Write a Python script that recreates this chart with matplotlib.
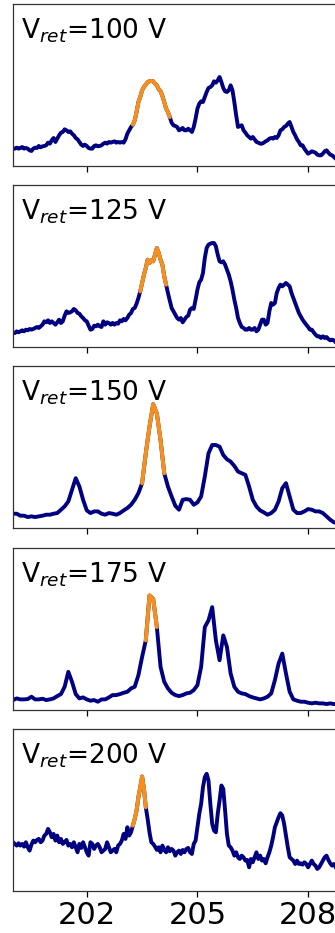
import numpy as np
import matplotlib
matplotlib.use('Agg')
import matplotlib.pyplot as plt

# binding energy grids (eV)
energy_fine = [
    200.00, 200.05, 200.10, 200.15, 200.20, 200.25, 200.30, 200.35, 200.40, 200.45,
    200.50, 200.55, 200.60, 200.65, 200.70, 200.75, 200.80, 200.85, 200.90, 200.95,
    201.00, 201.05, 201.10, 201.15, 201.20, 201.25, 201.30, 201.35, 201.40, 201.45,
    201.50, 201.55, 201.60, 201.65, 201.70, 201.75, 201.80, 201.85, 201.90, 201.95,
    202.00, 202.05, 202.10, 202.15, 202.20, 202.25, 202.30, 202.35, 202.40, 202.45,
    202.50, 202.55, 202.60, 202.65, 202.70, 202.75, 202.80, 202.85, 202.90, 202.95,
    203.00, 203.05, 203.10, 203.15, 203.20, 203.25, 203.30, 203.35, 203.40, 203.45,
    203.50, 203.55, 203.60, 203.65, 203.70, 203.75, 203.80, 203.85, 203.90, 203.95,
    204.00, 204.05, 204.10, 204.15, 204.20, 204.25, 204.30, 204.35, 204.40, 204.45,
    204.50, 204.55, 204.60, 204.65, 204.70, 204.75, 204.80, 204.85, 204.90, 204.95,
    205.00, 205.05, 205.10, 205.15, 205.20, 205.25, 205.30, 205.35, 205.40, 205.45,
    205.50, 205.55, 205.60, 205.65, 205.70, 205.75, 205.80, 205.85, 205.90, 205.95,
    206.00, 206.05, 206.10, 206.15, 206.20, 206.25, 206.30, 206.35, 206.40, 206.45,
    206.50, 206.55, 206.60, 206.65, 206.70, 206.75, 206.80, 206.85, 206.90, 206.95,
    207.00, 207.05, 207.10, 207.15, 207.20, 207.25, 207.30, 207.35, 207.40, 207.45,
    207.50, 207.55, 207.60, 207.65, 207.70, 207.75, 207.80, 207.85, 207.90, 207.95,
    208.00, 208.05, 208.10, 208.15, 208.20, 208.25, 208.30, 208.35, 208.40, 208.45,
    208.50, 208.55, 208.60, 208.65, 208.70, 208.75]

energy_coarse = [
    200.0, 200.1, 200.2, 200.3, 200.4, 200.5, 200.6, 200.7, 200.8, 200.9,
    201.0, 201.1, 201.2, 201.3, 201.4, 201.5, 201.6, 201.7, 201.8, 201.9,
    202.0, 202.1, 202.2, 202.3, 202.4, 202.5, 202.6, 202.7, 202.8, 202.9,
    203.0, 203.1, 203.2, 203.3, 203.4, 203.5, 203.6, 203.7, 203.8, 203.9,
    204.0, 204.1, 204.2, 204.3, 204.4, 204.5, 204.6, 204.7, 204.8, 204.9,
    205.0, 205.1, 205.2, 205.3, 205.4, 205.5, 205.6, 205.7, 205.8, 205.9,
    206.0, 206.1, 206.2, 206.3, 206.4, 206.5, 206.6, 206.7, 206.8, 206.9,
    207.0, 207.1, 207.2, 207.3, 207.4, 207.5, 207.6, 207.7, 207.8, 207.9,
    208.0, 208.1, 208.2, 208.3, 208.4, 208.5, 208.6, 208.7, 208.8]

voltages = [100, 125, 150, 175, 200]

# intensities (arb. units)
spec_100 = [
    52, 52, 55, 52, 54, 57, 52, 54, 52, 47, 45, 52, 55, 54, 60, 56, 59, 60, 62, 70,
    67, 77, 84, 72, 82, 92, 100, 102, 110, 107, 102, 104, 97, 92, 84, 80, 72, 64, 60, 64,
    60, 54, 52, 52, 60, 62, 59, 60, 62, 67, 70, 67, 72, 70, 72, 74, 70, 72, 70, 72,
    70, 80, 97, 107, 117, 124, 137, 162, 192, 207, 227, 237, 244, 252, 254, 255, 254, 247, 242, 230,
    224, 210, 192, 172, 162, 147, 130, 122, 120, 117, 107, 110, 114, 107, 107, 112, 107, 102, 117, 142,
    172, 187, 194, 192, 207, 222, 234, 237, 242, 254, 250, 257, 267, 252, 234, 224, 222, 227, 242, 227,
    192, 152, 117, 120, 122, 107, 100, 92, 87, 82, 87, 80, 72, 70, 67, 67, 70, 74, 77, 82,
    84, 82, 87, 84, 92, 107, 110, 117, 120, 127, 132, 117, 102, 92, 80, 72, 62, 62, 52, 44,
    37, 40, 44, 42, 40, 34, 32, 32, 37, 44, 47, 40, 34, 32, 27, 22]
spec_125 = [
    42, 42, 47, 44, 47, 50, 47, 52, 50, 54, 52, 54, 57, 60, 57, 62, 67, 77, 74, 80,
    72, 77, 72, 67, 74, 82, 72, 77, 94, 107, 102, 104, 107, 114, 110, 102, 100, 92, 87, 80,
    77, 64, 52, 54, 64, 62, 67, 62, 60, 77, 67, 74, 72, 67, 72, 67, 72, 70, 80, 77,
    84, 80, 87, 97, 102, 114, 117, 130, 147, 167, 192, 217, 237, 262, 252, 260, 257, 277, 297, 282,
    262, 247, 212, 187, 162, 140, 117, 107, 97, 87, 82, 87, 74, 82, 90, 94, 112, 117, 114, 142,
    172, 194, 202, 222, 267, 297, 307, 310, 312, 312, 302, 277, 257, 254, 257, 247, 232, 217, 197, 172,
    142, 117, 87, 72, 60, 57, 52, 52, 57, 52, 52, 57, 47, 52, 67, 82, 82, 67, 72, 107,
    132, 127, 132, 162, 177, 187, 182, 187, 192, 187, 182, 162, 147, 132, 117, 102, 92, 82, 74, 67,
    60, 52, 52, 44, 37, 32, 32, 27, 32, 27, 30, 24, 20, 22, 20, 14]
spec_150 = [
    43, 43, 37, 37, 33, 35, 33, 35, 37, 40,
    40, 43, 45, 55, 65, 80, 115, 150, 125, 85,
    53, 45, 50, 50, 43, 40, 45, 43, 40, 45,
    53, 60, 70, 85, 105, 135, 225, 305, 373, 345,
    265, 165, 125, 95, 67, 55, 85, 87, 85, 70,
    77, 95, 155, 225, 250, 250, 245, 220, 207, 200,
    187, 170, 165, 160, 125, 85, 65, 53, 47, 40,
    45, 55, 80, 120, 135, 95, 55, 45, 45, 50,
    57, 55, 50, 50, 45, 35, 25, 17, 15]
spec_175 = [
    30, 35, 32, 32, 33, 40, 32, 32, 34, 30,
    32, 35, 42, 48, 70, 115, 85, 48, 35, 38,
    32, 28, 30, 25, 32, 32, 38, 45, 45, 48,
    52, 55, 65, 70, 105, 160, 210, 345, 335, 250,
    130, 85, 65, 52, 45, 42, 45, 50, 52, 60,
    75, 130, 250, 270, 310, 210, 150, 225, 190, 110,
    70, 55, 50, 48, 42, 38, 35, 32, 35, 40,
    50, 90, 140, 170, 110, 55, 32, 28, 25, 25,
    22, 20, 22, 20, 20, 18, 20, 18, 18]
spec_200 = [
    146, 141, 136, 143, 136, 141, 133, 146, 131, 121, 139, 151, 146, 153, 156, 146, 151, 166, 171, 186,
    176, 161, 171, 151, 166, 146, 156, 141, 146, 153, 136, 141, 131, 146, 131, 116, 141, 129, 146, 131,
    116, 106, 146, 141, 126, 136, 141, 131, 116, 121, 126, 146, 131, 116, 121, 126, 116, 136, 141, 151,
    171, 156, 191, 166, 176, 196, 216, 241, 281, 311, 343, 306, 251, 216, 176, 146, 141, 133, 123, 131,
    116, 136, 123, 116, 131, 119, 126, 121, 106, 116, 121, 111, 123, 116, 126, 129, 116, 111, 141, 151,
    191, 231, 261, 311, 341, 351, 331, 261, 201, 181, 176, 231, 271, 316, 306, 241, 171, 136, 131, 121,
    106, 116, 101, 96, 106, 101, 91, 93, 71, 96, 86, 101, 116, 96, 106, 91, 96, 83, 101, 116,
    136, 161, 191, 206, 221, 233, 226, 201, 166, 131, 101, 96, 91, 81, 91, 81, 83, 79, 86, 81,
    71, 81, 91, 81, 76, 66, 71, 81, 91, 101, 106, 93, 83, 76, 81, 71]

spectra = [spec_100, spec_125, spec_150, spec_175, spec_200]
grids = [energy_fine, energy_fine, energy_coarse, energy_coarse, energy_fine]
y_top = [486, 486, 488, 488, 485]

# highlighted (orange) energy windows
hl_lo = [203.25, 203.45, 203.5, 203.6, 203.25]
hl_hi = [204.25, 204.15, 204.1, 203.9, 203.6]

fig = plt.figure(figsize=(3.35, 9.33), dpi=100)
bottoms = [0.8221, 0.6281, 0.4341, 0.2390, 0.0450]

for i in range(5):
    ax = fig.add_axes([0.0388, bottoms[i], 0.991, 0.1736])
    E = np.array(grids[i])
    y = np.array(spectra[i])
    ax.plot(E, y, color='navy', lw=2.8, solid_joinstyle='round')
    m = (E >= hl_lo[i] - 1e-6) & (E <= hl_hi[i] + 1e-6)
    ax.plot(E[m], y[m], color='#f5901e', lw=2.9, solid_capstyle='round',
            solid_joinstyle='round')
    ax.set_xlim(200, 209)
    ax.set_ylim(0, y_top[i])
    ax.set_yticks([])
    ax.set_xticks([202, 205, 208])
    ax.tick_params(axis='x', direction='out', length=4.5, width=0.9, labelsize=22, pad=3)
    if i < 4:
        ax.set_xticklabels([])
    for s in ax.spines.values():
        s.set_linewidth(0.9)
        s.set_color('#333333')
    ax.text(0.024, 0.925, r'V$_{ret}$=%d V' % voltages[i], transform=ax.transAxes,
            fontsize=19, va='top', ha='left')

fig.savefig('out.png', dpi=100)
